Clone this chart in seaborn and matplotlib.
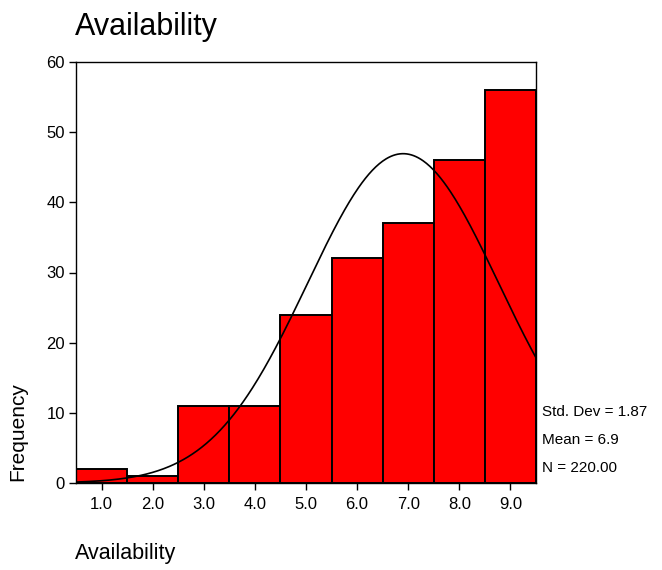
import numpy as np
import pandas as pd
import matplotlib
matplotlib.use("Agg")
import matplotlib.pyplot as plt
import seaborn as sns

# Data
categories = [1.0, 2.0, 3.0, 4.0, 5.0, 6.0, 7.0, 8.0, 9.0]
counts = [2, 1, 11, 11, 24, 32, 37, 46, 56]
tick_labels = ["1.0", "2.0", "3.0", "4.0", "5.0", "6.0", "7.0", "8.0", "9.0"]
y_ticks = [0, 10, 20, 30, 40, 50, 60]
std_dev = 1.87
mean = 6.9
n_total = 220.00

sns.set_theme(style="white")
plt.rcParams['font.family'] = ['Liberation Sans', 'DejaVu Sans']
plt.rcParams['text.color'] = 'black'

fig = plt.figure(figsize=(6.62, 5.70), dpi=100)
ax = fig.add_axes([76 / 662, 1 - 483 / 570, 460 / 662, 421 / 570])

df = pd.DataFrame({"value": categories, "count": counts})
sns.histplot(data=df, x="value", weights="count", binwidth=1.0, binrange=(0.5, 9.5), ax=ax,
             color="#ff0000", edgecolor="black", linewidth=1.4, alpha=1.0)

# Normal curve fitted from the reported statistics (bin width 1)
xs = np.linspace(0.5, 9.5, 400)
ys = n_total * 1.0 / (std_dev * np.sqrt(2 * np.pi)) * np.exp(-0.5 * ((xs - mean) / std_dev) ** 2)
sns.lineplot(x=xs, y=ys, ax=ax, color="black", linewidth=1.2)

ax.set_xlim(0.5, 9.5)
ax.set_ylim(0, 60)
ax.set_xticks(categories)
ax.set_xticklabels(tick_labels)
ax.set_yticks(y_ticks)
ax.set_xlabel("")
ax.set_ylabel("")
ax.tick_params(axis="both", which="both", direction="out", length=5, width=1,
               color="black", labelsize=12, labelcolor="black",
               bottom=True, left=True)
ax.tick_params(axis="x", pad=5)
ax.tick_params(axis="y", pad=3)
for s in ax.spines.values():
    s.set_visible(True)
    s.set_color("black")
    s.set_linewidth(1.0)

fig.text(75 / 662, 1 - 27 / 570, "Availability", fontsize=22, ha="left", va="center", color="black")
fig.text(75 / 662, 1 - 553 / 570, "Availability", fontsize=15.5, ha="left", va="center", color="black")
fig.text(18 / 662, 1 - 432 / 570, "Frequency", fontsize=15, rotation=90, ha="center", va="center", color="black")

stats = [f"Std. Dev = {std_dev:.2f}", f"Mean = {mean:.1f}", f"N = {n_total:.2f}"]
for i, s in enumerate(stats):
    fig.text(542 / 662, 1 - (412 + 28 * i) / 570, s, fontsize=11, ha="left", va="center", color="black")

fig.savefig("out.png", dpi=100)
